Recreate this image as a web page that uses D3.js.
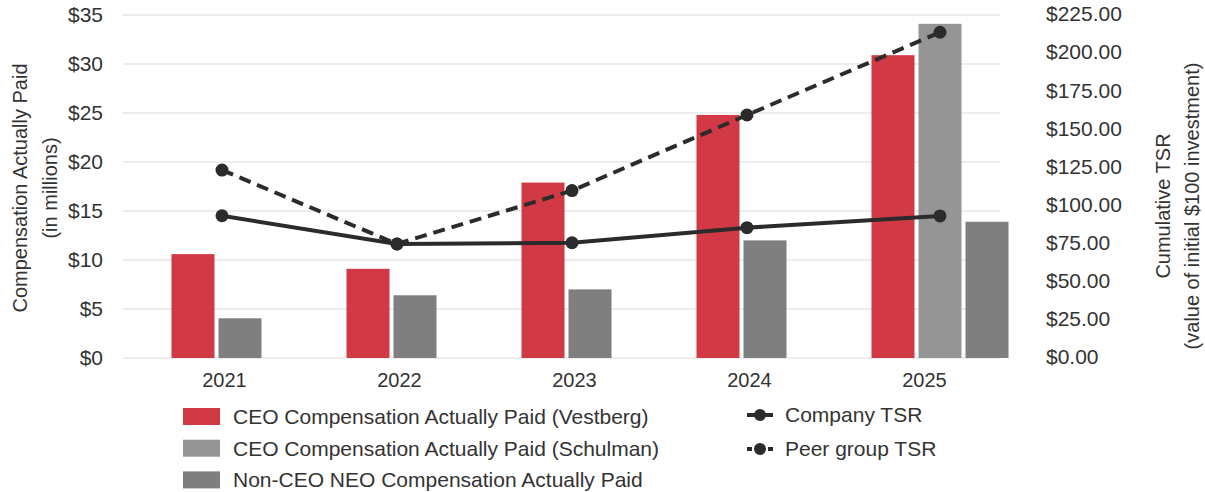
<!DOCTYPE html>
<html>
<head>
<meta charset="utf-8">
<script src="https://cdn.jsdelivr.net/npm/d3@7"></script>
<style>
  body { margin: 0; background: #fff; }
  svg text { font-family: "Liberation Sans", Arial, sans-serif; fill: #333; }
</style>
</head>
<body>
<div class="canvas"></div>
<script>
const years = ["2021", "2022", "2023", "2024", "2025"]
const vestberg = [10.6, 9.1, 17.9, 24.8, 30.9]
const schulman = [null, null, null, null, 34.1]
const neo = [4.05, 6.4, 7.0, 12.0, 13.9]
const companyTSR = [93.3, 74.8, 75.6, 85.5, 93.2]
const peerTSR = [123.3, 74.8, 109.8, 159.4, 213.7]
const leftTicks = [0, 5, 10, 15, 20, 25, 30, 35]
const rightTicks = [0, 25, 50, 75, 100, 125, 150, 175, 200, 225]

const width = 1205
const height = 492
const plotTop = 15, plotBottom = 358
const gridLeft = 123, gridRight = 1000
const barW = 43, barGap = 4

const red = "#d13a44", grayLight = "#959595", grayDark = "#7f7f7f", lineCol = "#2b2b2b"

const svg = d3.select(".canvas")
  .append("svg")
  .attr("width", width)
  .attr("height", height)

const x = d3.scaleBand().domain(years).range([136, 1011])
const yL = d3.scaleLinear().domain([0, 35]).range([plotBottom, plotTop])
const yR = d3.scaleLinear().domain([0, 225]).range([plotBottom, plotTop])
const cx = yr => x(yr) + x.bandwidth() / 2

// gridlines
svg.append("g").selectAll("line")
  .data(leftTicks)
  .enter().append("line")
  .attr("x1", gridLeft).attr("x2", gridRight)
  .attr("y1", d => yL(d)).attr("y2", d => yL(d))
  .attr("stroke", "#e7e7e7").attr("stroke-width", 1.5)

// left axis labels
svg.append("g").selectAll("text")
  .data(leftTicks)
  .enter().append("text")
  .attr("x", 103).attr("y", d => yL(d))
  .attr("dy", "0.35em")
  .attr("text-anchor", "end")
  .style("font-size", "21px")
  .text(d => "$" + d)

// right axis labels
svg.append("g").selectAll("text")
  .data(rightTicks)
  .enter().append("text")
  .attr("x", 1046).attr("y", d => yR(d) - 1)
  .attr("dy", "0.35em")
  .style("font-size", "21px")
  .text(d => "$" + d3.format(".2f")(d))

// year labels
svg.append("g").selectAll("text")
  .data(years)
  .enter().append("text")
  .attr("x", d => cx(d) + 1).attr("y", 380)
  .attr("dy", "0.35em")
  .attr("text-anchor", "middle")
  .style("font-size", "20px")
  .text(d => d)

// axis titles
const lt = svg.append("text")
  .attr("transform", "translate(20,188) rotate(-90)")
  .attr("text-anchor", "middle")
  .style("font-size", "20px")
lt.append("tspan").attr("x", 0).attr("dy", "0.35em").text("Compensation Actually Paid")
lt.append("tspan").attr("x", 0).attr("dy", "30").text("(in millions)")

const rt = svg.append("text")
  .attr("transform", "translate(1163,206) rotate(-90)")
  .attr("text-anchor", "middle")
  .style("font-size", "20px")
rt.append("tspan").attr("x", 0).attr("dy", "0.35em").text("Cumulative TSR")
rt.append("tspan").attr("x", 0).attr("dy", "29").text("(value of initial $100 investment)")

// bars: each year lists its non-empty series left to right
const barData = []
years.forEach((yr, i) => {
  const list = [
    { key: "v", value: vestberg[i], color: red },
    { key: "s", value: schulman[i], color: grayLight },
    { key: "n", value: neo[i], color: grayDark }
  ].filter(b => b.value != null)
  list.forEach((b, j) => {
    barData.push({ year: yr, key: b.key, value: b.value, color: b.color, x0: cx(yr) - 52 + j * (barW + barGap) })
  })
})

svg.append("g").selectAll("rect")
  .data(barData)
  .enter().append("rect")
  .attr("x", d => d.x0)
  .attr("width", barW)
  .attr("y", d => yL(d.value))
  .attr("height", d => yL(0) - yL(d.value))
  .attr("fill", d => d.color)

// TSR point x: centred on Schulman bar when present
const ptX = (yr, i) => {
  const s = barData.find(b => b.year === yr && b.key === "s")
  return s ? s.x0 + barW / 2 : cx(yr) - 1.5
}

const line = d3.line()
  .x(d => d.x)
  .y(d => yR(d.v))

const series = [
  { values: companyTSR, dash: null },
  { values: peerTSR, dash: "12,7" }
]

series.forEach(s => {
  const pts = years.map((yr, i) => ({ x: ptX(yr, i), v: s.values[i] }))
  svg.append("path")
    .datum(pts)
    .attr("d", line)
    .attr("fill", "none")
    .attr("stroke", lineCol)
    .attr("stroke-width", 4)
    .attr("stroke-dasharray", s.dash)
  svg.append("g").selectAll("circle")
    .data(pts)
    .enter().append("circle")
    .attr("cx", d => d.x)
    .attr("cy", d => yR(d.v))
    .attr("r", 6.5)
    .attr("fill", lineCol)
})

// legend
const barLegend = [
  { label: "CEO Compensation Actually Paid (Vestberg)", color: red },
  { label: "CEO Compensation Actually Paid (Schulman)", color: grayLight },
  { label: "Non-CEO NEO Compensation Actually Paid", color: grayDark }
]
const lg = svg.append("g")
barLegend.forEach((d, i) => {
  const yy = 416.5 + i * 31.7
  lg.append("rect").attr("x", 183).attr("y", yy - 8.5).attr("width", 37).attr("height", 17).attr("fill", d.color)
  lg.append("text").attr("x", 233).attr("y", yy).attr("dy", "0.35em").style("font-size", "21px").text(d.label)
})

const lineLegend = [
  { label: "Company TSR", dashed: false },
  { label: "Peer group TSR", dashed: true }
]
lineLegend.forEach((d, i) => {
  const yy = 415 + i * 34
  if (d.dashed) {
    lg.append("line").attr("x1", 747).attr("x2", 752).attr("y1", yy).attr("y2", yy).attr("stroke", lineCol).attr("stroke-width", 4)
    lg.append("line").attr("x1", 768).attr("x2", 773).attr("y1", yy).attr("y2", yy).attr("stroke", lineCol).attr("stroke-width", 4)
  } else {
    lg.append("line").attr("x1", 747).attr("x2", 773).attr("y1", yy).attr("y2", yy).attr("stroke", lineCol).attr("stroke-width", 4)
  }
  lg.append("circle").attr("cx", 760).attr("cy", yy).attr("r", 6).attr("fill", lineCol)
  lg.append("text").attr("x", 785).attr("y", yy).attr("dy", "0.35em").style("font-size", "21px").text(d.label)
})
</script>
</body>
</html>
